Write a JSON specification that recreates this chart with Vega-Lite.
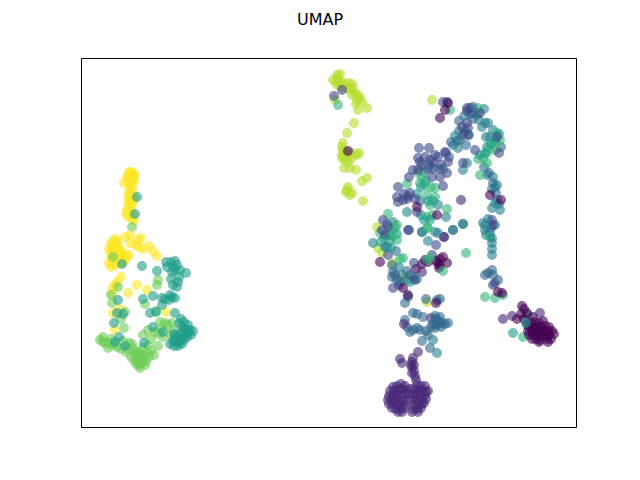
{"$schema":"https://vega.github.io/schema/vega-lite/v6.json","width":495,"height":369,"autosize":"none","padding":{"left":81,"top":58,"right":64,"bottom":53},"background":"white",
"title":{"text":"UMAP","font":"DejaVu Sans","fontSize":16,"fontWeight":"normal","color":"black","anchor":"middle","dx":-8.5,"offset":30},
"config":{"view":{"stroke":"black","strokeWidth":1}},
"data":{"values":[
{"x":50,"y":255,"c":9},{"x":48,"y":255,"c":9},{"x":52,"y":254,"c":9},{"x":47,"y":252,"c":9},{"x":51,"y":252,"c":9},{"x":54,"y":252,"c":9},{"x":49,"y":250,"c":9},{"x":52,"y":249,"c":9},{"x":46,"y":249,"c":9},{"x":50,"y":247,"c":9},{"x":53,"y":246,"c":9},{"x":43,"y":244,"c":9},{"x":48,"y":244,"c":9},{"x":51,"y":243,"c":9},{"x":49,"y":240,"c":9},{"x":52,"y":238,"c":9},{"x":48,"y":235,"c":9},{"x":50,"y":233,"c":9},{"x":52,"y":231,"c":9},{"x":47,"y":230,"c":9},{"x":49,"y":228,"c":9},{"x":53,"y":227,"c":9},{"x":48,"y":225,"c":9},{"x":51,"y":223,"c":9},{"x":47,"y":221,"c":9},{"x":50,"y":219,"c":9},{"x":46,"y":216,"c":9},{"x":49,"y":214,"c":9},{"x":52,"y":212,"c":9},{"x":48,"y":210,"c":9},{"x":45,"y":213,"c":9},{"x":51,"y":208,"c":9},{"x":53,"y":206,"c":9},{"x":51,"y":200,"c":7},{"x":56,"y":230,"c":5},{"x":54,"y":213,"c":5},
{"x":34,"y":188,"c":9},{"x":32,"y":186,"c":9},{"x":36,"y":186,"c":9},{"x":30,"y":183,"c":9},{"x":34,"y":183,"c":9},{"x":37,"y":182,"c":9},{"x":31,"y":180,"c":9},{"x":35,"y":179,"c":9},{"x":28,"y":178,"c":9},{"x":32,"y":177,"c":9},{"x":38,"y":177,"c":9},{"x":30,"y":174,"c":9},{"x":34,"y":174,"c":9},{"x":37,"y":174,"c":9},{"x":41,"y":176,"c":9},{"x":43,"y":172,"c":9},{"x":46,"y":170,"c":9},{"x":48,"y":172,"c":9},{"x":40,"y":172,"c":9},{"x":33,"y":171,"c":9},{"x":30,"y":169,"c":9},{"x":36,"y":168,"c":9},{"x":39,"y":169,"c":9},{"x":42,"y":168,"c":9},{"x":44,"y":167,"c":9},{"x":28,"y":164,"c":9},{"x":32,"y":163,"c":9},{"x":35,"y":162,"c":9},{"x":41,"y":164,"c":9},{"x":30,"y":160,"c":9},{"x":44,"y":190,"c":9},{"x":49,"y":192,"c":9},{"x":60,"y":189,"c":9},{"x":57,"y":187,"c":9},{"x":49,"y":184,"c":9},{"x":54,"y":182,"c":9},{"x":58,"y":180,"c":9},{"x":62,"y":178,"c":9},{"x":68,"y":181,"c":9},{"x":72,"y":176,"c":9},{"x":76,"y":171,"c":9},{"x":40,"y":150,"c":9},{"x":56,"y":142,"c":9},{"x":47,"y":134,"c":9},{"x":66,"y":137,"c":9},{"x":34,"y":142,"c":9},{"x":36,"y":145,"c":9},{"x":32,"y":139,"c":9},{"x":31,"y":134,"c":9},{"x":32,"y":114,"c":9},{"x":34,"y":97,"c":9},{"x":85,"y":115,"c":9},{"x":39,"y":118,"c":9},
{"x":32,"y":170,"c":7},{"x":37,"y":140,"c":7},{"x":30,"y":132,"c":7},{"x":31,"y":124,"c":7},{"x":77,"y":147,"c":7},{"x":76,"y":142,"c":7},{"x":64,"y":123,"c":7},{"x":44,"y":115,"c":7},{"x":75,"y":116,"c":7},{"x":43,"y":99,"c":7},{"x":40,"y":108,"c":7},{"x":62,"y":92,"c":7},{"x":67,"y":97,"c":7},{"x":74,"y":95,"c":7},{"x":81,"y":99,"c":7},{"x":84,"y":104,"c":7},{"x":87,"y":102,"c":7},{"x":79,"y":105,"c":7},{"x":91,"y":104,"c":7},{"x":92,"y":97,"c":7},{"x":82,"y":90,"c":7},{"x":90,"y":92,"c":7},{"x":78,"y":93,"c":7},{"x":70,"y":88,"c":7},{"x":48,"y":84,"c":7},{"x":42,"y":86,"c":7},{"x":30,"y":88,"c":7},{"x":22,"y":90,"c":7},{"x":19,"y":87,"c":7},{"x":24,"y":84,"c":7},{"x":22,"y":85,"c":7},{"x":27,"y":79,"c":7},{"x":28,"y":84,"c":7},{"x":32,"y":82,"c":7},{"x":36,"y":80,"c":7},{"x":40,"y":78,"c":7},{"x":45,"y":75,"c":7},{"x":51,"y":83,"c":7},{"x":48,"y":77,"c":7},{"x":53,"y":78,"c":7},{"x":57,"y":75,"c":7},{"x":62,"y":79,"c":7},{"x":67,"y":82,"c":7},{"x":70,"y":76,"c":7},{"x":77,"y":81,"c":7},{"x":73,"y":72,"c":7},{"x":50,"y":70,"c":7},{"x":53,"y":67,"c":7},{"x":56,"y":71,"c":7},{"x":59,"y":67,"c":7},{"x":62,"y":70,"c":7},{"x":65,"y":66,"c":7},{"x":68,"y":70,"c":7},{"x":55,"y":63,"c":7},{"x":58,"y":62,"c":7},{"x":61,"y":64,"c":7},{"x":64,"y":62,"c":7},{"x":57,"y":66,"c":7},{"x":60,"y":73,"c":7},{"x":66,"y":74,"c":7},{"x":54,"y":74,"c":7},{"x":59,"y":59,"c":7},
{"x":85,"y":165,"c":5},{"x":90,"y":165,"c":5},{"x":86,"y":160,"c":5},{"x":90,"y":148,"c":5},{"x":94,"y":166,"c":5},{"x":92,"y":160,"c":5},{"x":96,"y":162,"c":5},{"x":94,"y":157,"c":5},{"x":99,"y":157,"c":5},{"x":91,"y":155,"c":5},{"x":105,"y":154,"c":5},{"x":97,"y":145,"c":5},{"x":92,"y":142,"c":5},{"x":96,"y":140,"c":5},{"x":98,"y":150,"c":5},{"x":61,"y":161,"c":5},{"x":76,"y":156,"c":5},{"x":41,"y":163,"c":5},{"x":81,"y":129,"c":5},{"x":84,"y":128,"c":5},{"x":88,"y":127,"c":5},{"x":94,"y":129,"c":5},{"x":91,"y":130,"c":5},{"x":89,"y":132,"c":5},{"x":72,"y":131,"c":5},{"x":62,"y":128,"c":5},{"x":37,"y":127,"c":5},{"x":81,"y":122,"c":5},{"x":94,"y":114,"c":5},{"x":75,"y":115,"c":5},{"x":69,"y":114,"c":5},{"x":42,"y":113,"c":5},{"x":36,"y":114,"c":5},{"x":33,"y":104,"c":5},{"x":72,"y":100,"c":5},{"x":82,"y":95,"c":5},{"x":38,"y":90,"c":5},{"x":34,"y":85,"c":5},{"x":44,"y":81,"c":5},{"x":63,"y":84,"c":5},{"x":100,"y":108,"c":5},{"x":98,"y":104,"c":5},{"x":103,"y":105,"c":5},{"x":107,"y":102,"c":5},{"x":101,"y":100,"c":5},{"x":105,"y":98,"c":5},{"x":109,"y":97,"c":5},{"x":112,"y":96,"c":5},{"x":104,"y":97,"c":5},{"x":101,"y":95,"c":5},{"x":107,"y":94,"c":5},{"x":110,"y":92,"c":5},{"x":97,"y":92,"c":5},{"x":103,"y":91,"c":5},{"x":106,"y":90,"c":5},{"x":94,"y":89,"c":5},{"x":97,"y":89,"c":5},{"x":100,"y":88,"c":5},{"x":103,"y":87,"c":5},{"x":92,"y":86,"c":5},{"x":95,"y":85,"c":5},{"x":98,"y":84,"c":5},{"x":101,"y":83,"c":5},{"x":89,"y":83,"c":5},{"x":93,"y":81,"c":5},{"x":97,"y":81,"c":5},{"x":93,"y":93,"c":5},
{"x":252,"y":347,"c":8},{"x":256,"y":352,"c":8},{"x":259,"y":353,"c":8},{"x":257,"y":349,"c":8},{"x":255,"y":345,"c":8},{"x":259,"y":345,"c":8},{"x":262,"y":344,"c":8},{"x":256,"y":342,"c":8},{"x":261,"y":340,"c":8},{"x":267,"y":344,"c":8},{"x":271,"y":343,"c":8},{"x":266,"y":339,"c":8},{"x":269,"y":337,"c":8},{"x":272,"y":339,"c":8},{"x":271,"y":332,"c":8},{"x":274,"y":334,"c":8},{"x":277,"y":332,"c":8},{"x":276,"y":327,"c":8},{"x":279,"y":329,"c":8},{"x":281,"y":325,"c":8},{"x":275,"y":323,"c":8},{"x":277,"y":317,"c":8},{"x":286,"y":319,"c":8},{"x":254,"y":327,"c":8},{"x":273,"y":304,"c":8},{"x":266,"y":294,"c":8},{"x":351,"y":327,"c":8},{"x":253,"y":331,"c":2},{"x":261,"y":337,"c":2},{"x":257,"y":322,"c":6},
{"x":262,"y":284,"c":8},{"x":261,"y":280,"c":8},{"x":262,"y":277,"c":8},{"x":264,"y":274,"c":8},{"x":261,"y":272,"c":8},{"x":267,"y":272,"c":8},{"x":271,"y":274,"c":8},{"x":278,"y":274,"c":8},{"x":276,"y":272,"c":8},{"x":261,"y":269,"c":8},{"x":264,"y":267,"c":8},{"x":267,"y":265,"c":8},{"x":271,"y":269,"c":8},{"x":263,"y":259,"c":8},{"x":269,"y":259,"c":8},{"x":275,"y":257,"c":8},{"x":267,"y":276,"c":0},{"x":286,"y":249,"c":8},{"x":281,"y":246,"c":8},{"x":267,"y":240,"c":8},{"x":266,"y":237,"c":8},{"x":269,"y":232,"c":8},{"x":265,"y":235,"c":8},{"x":271,"y":234,"c":8},{"x":282,"y":226,"c":8},{"x":296,"y":200,"c":8},{"x":297,"y":179,"c":8},{"x":301,"y":174,"c":8},{"x":324,"y":150,"c":8},{"x":312,"y":164,"c":8},{"x":346,"y":125,"c":8},
{"x":396,"y":312,"c":4},{"x":404,"y":304,"c":4},{"x":407,"y":304,"c":4},{"x":409,"y":290,"c":4},{"x":388,"y":292,"c":4},{"x":372,"y":282,"c":4},{"x":379,"y":287,"c":4},{"x":377,"y":279,"c":4},{"x":386,"y":264,"c":4},{"x":382,"y":257,"c":4},{"x":406,"y":252,"c":4},{"x":412,"y":250,"c":4},{"x":414,"y":240,"c":4},{"x":411,"y":238,"c":4},{"x":416,"y":242,"c":4},{"x":416,"y":227,"c":4},{"x":419,"y":217,"c":4},{"x":411,"y":219,"c":4},{"x":402,"y":204,"c":4},{"x":404,"y":197,"c":4},{"x":414,"y":202,"c":4},{"x":382,"y":203,"c":3},{"x":372,"y":197,"c":3},{"x":365,"y":210,"c":4},{"x":341,"y":195,"c":4},{"x":354,"y":195,"c":4},{"x":326,"y":215,"c":4},{"x":357,"y":222,"c":4},{"x":409,"y":194,"c":4},{"x":376,"y":286,"c":3},{"x":368,"y":270,"c":3},{"x":385,"y":282,"c":3},{"x":403,"y":318,"c":4},{"x":392,"y":308,"c":3},{"x":406,"y":280,"c":4},{"x":420,"y":280,"c":3},{"x":349,"y":262,"c":3},{"x":358,"y":258,"c":3},{"x":383,"y":311,"c":4},{"x":389,"y":313,"c":3},{"x":392,"y":314,"c":3},{"x":378,"y":306,"c":3},{"x":384,"y":296,"c":3},{"x":378,"y":296,"c":4},{"x":374,"y":291,"c":4},{"x":370,"y":285,"c":3},{"x":398,"y":307,"c":4},{"x":401,"y":300,"c":4},{"x":405,"y":290,"c":4},{"x":412,"y":297,"c":4},{"x":403,"y":260,"c":3},{"x":408,"y":254,"c":3},{"x":412,"y":244,"c":3},{"x":415,"y":234,"c":3},{"x":418,"y":223,"c":4},{"x":414,"y":224,"c":4},{"x":407,"y":208,"c":4},{"x":410,"y":199,"c":3},{"x":405,"y":192,"c":4},{"x":343,"y":255,"c":3},{"x":347,"y":258,"c":3},{"x":362,"y":258,"c":3},{"x":339,"y":226,"c":3},{"x":306,"y":203,"c":3},{"x":312,"y":205,"c":4},{"x":309,"y":192,"c":4},{"x":306,"y":180,"c":3},{"x":315,"y":176,"c":3},{"x":311,"y":162,"c":3},{"x":318,"y":160,"c":4},{"x":321,"y":152,"c":4},{"x":326,"y":156,"c":3},{"x":326,"y":147,"c":3},
{"x":397,"y":319,"c":6},{"x":369,"y":317,"c":6},{"x":416,"y":294,"c":6},{"x":419,"y":287,"c":6},{"x":414,"y":284,"c":6},{"x":409,"y":279,"c":6},{"x":414,"y":277,"c":6},{"x":406,"y":274,"c":6},{"x":402,"y":269,"c":6},{"x":397,"y":268,"c":6},{"x":406,"y":264,"c":6},{"x":399,"y":252,"c":6},{"x":337,"y":254,"c":6},{"x":341,"y":249,"c":6},{"x":339,"y":244,"c":6},{"x":344,"y":242,"c":6},{"x":326,"y":243,"c":6},{"x":354,"y":239,"c":6},{"x":346,"y":232,"c":6},{"x":354,"y":230,"c":6},{"x":366,"y":218,"c":6},{"x":349,"y":222,"c":6},{"x":346,"y":210,"c":6},{"x":351,"y":212,"c":6},{"x":307,"y":213,"c":6},{"x":314,"y":200,"c":6},{"x":311,"y":197,"c":6},{"x":316,"y":202,"c":6},{"x":346,"y":199,"c":6},{"x":299,"y":194,"c":6},{"x":409,"y":190,"c":6},{"x":418,"y":293,"c":5},{"x":414,"y":287,"c":5},{"x":410,"y":283,"c":5},{"x":404,"y":274,"c":5},{"x":399,"y":272,"c":5},{"x":345,"y":246,"c":5},{"x":340,"y":240,"c":5},{"x":336,"y":233,"c":5},{"x":350,"y":240,"c":6},{"x":347,"y":226,"c":5},{"x":352,"y":226,"c":5},{"x":340,"y":212,"c":5},{"x":343,"y":207,"c":5},{"x":349,"y":207,"c":5},{"x":303,"y":189,"c":6},{"x":316,"y":193,"c":5},{"x":329,"y":145,"c":5},
{"x":362,"y":325,"c":2},{"x":366,"y":325,"c":2},{"x":386,"y":319,"c":2},{"x":389,"y":319,"c":2},{"x":392,"y":320,"c":3},{"x":399,"y":314,"c":2},{"x":386,"y":304,"c":2},{"x":387,"y":299,"c":2},{"x":382,"y":292,"c":2},{"x":387,"y":292,"c":2},{"x":386,"y":316,"c":2},{"x":381,"y":300,"c":2},{"x":394,"y":277,"c":2},{"x":365,"y":274,"c":2},{"x":338,"y":279,"c":2},{"x":348,"y":279,"c":2},{"x":354,"y":272,"c":2},{"x":337,"y":269,"c":2},{"x":344,"y":270,"c":2},{"x":349,"y":267,"c":2},{"x":352,"y":265,"c":2},{"x":341,"y":262,"c":2},{"x":339,"y":265,"c":2},{"x":332,"y":257,"c":2},{"x":328,"y":250,"c":2},{"x":337,"y":257,"c":2},{"x":351,"y":250,"c":2},{"x":366,"y":254,"c":2},{"x":359,"y":250,"c":2},{"x":364,"y":275,"c":2},{"x":367,"y":265,"c":2},{"x":382,"y":264,"c":2},{"x":357,"y":270,"c":2},{"x":360,"y":262,"c":2},{"x":352,"y":258,"c":2},{"x":323,"y":233,"c":2},{"x":334,"y":228,"c":2},{"x":326,"y":228,"c":2},{"x":317,"y":240,"c":2},{"x":362,"y":241,"c":2},{"x":329,"y":234,"c":2},{"x":316,"y":230,"c":2},{"x":317,"y":225,"c":2},{"x":322,"y":227,"c":2},{"x":327,"y":231,"c":2},{"x":336,"y":215,"c":2},{"x":327,"y":197,"c":2},{"x":302,"y":207,"c":2},{"x":307,"y":200,"c":2},{"x":301,"y":197,"c":2},{"x":304,"y":192,"c":2},{"x":416,"y":290,"c":2},{"x":418,"y":274,"c":2},{"x":411,"y":207,"c":2},{"x":412,"y":202,"c":2},{"x":328,"y":197,"c":2},{"x":363,"y":190,"c":2},{"x":355,"y":182,"c":2},{"x":307,"y":172,"c":2},{"x":314,"y":152,"c":2},{"x":318,"y":142,"c":2},
{"x":364,"y":317,"c":0},{"x":367,"y":324,"c":0},{"x":359,"y":309,"c":0},{"x":409,"y":232,"c":0},{"x":420,"y":227,"c":0},{"x":356,"y":212,"c":0},{"x":363,"y":190,"c":1},{"x":336,"y":220,"c":0},{"x":380,"y":227,"c":1},{"x":335,"y":158,"c":0},{"x":341,"y":155,"c":1},
{"x":292,"y":184,"c":4},{"x":341,"y":195,"c":4},{"x":347,"y":186,"c":4},{"x":382,"y":203,"c":4},{"x":372,"y":197,"c":4},{"x":357,"y":194,"c":4},{"x":312,"y":191,"c":6},{"x":316,"y":187,"c":6},{"x":309,"y":186,"c":5},{"x":300,"y":185,"c":5},{"x":304,"y":180,"c":4},{"x":310,"y":179,"c":5},{"x":322,"y":169,"c":6},{"x":319,"y":168,"c":6},{"x":347,"y":199,"c":6},{"x":385,"y":174,"c":6},{"x":404,"y":130,"c":6},{"x":414,"y":129,"c":6},{"x":422,"y":132,"c":6},{"x":442,"y":90,"c":6},{"x":447,"y":112,"c":6},{"x":432,"y":94,"c":5},{"x":312,"y":155,"c":3},{"x":316,"y":147,"c":3},{"x":319,"y":145,"c":3},{"x":329,"y":152,"c":3},{"x":311,"y":150,"c":3},{"x":333,"y":150,"c":3},{"x":336,"y":148,"c":4},{"x":327,"y":130,"c":3},{"x":324,"y":124,"c":3},{"x":345,"y":128,"c":3},{"x":356,"y":127,"c":3},{"x":359,"y":128,"c":3},{"x":333,"y":164,"c":2},{"x":334,"y":147,"c":2},{"x":312,"y":139,"c":2},{"x":299,"y":165,"c":0},{"x":322,"y":139,"c":0},{"x":327,"y":132,"c":0},{"x":344,"y":167,"c":0},{"x":341,"y":163,"c":0},{"x":347,"y":165,"c":0},{"x":351,"y":172,"c":2},{"x":359,"y":168,"c":0},{"x":362,"y":170,"c":0},{"x":366,"y":164,"c":0},{"x":357,"y":164,"c":0},{"x":359,"y":161,"c":0},{"x":358,"y":159,"c":0},{"x":355,"y":166,"c":0},{"x":349,"y":169,"c":6},{"x":346,"y":167,"c":6},{"x":362,"y":156,"c":6},{"x":355,"y":124,"c":0},{"x":350,"y":109,"c":1},
{"x":332,"y":114,"c":3},{"x":336,"y":113,"c":3},{"x":342,"y":110,"c":3},{"x":359,"y":110,"c":3},{"x":361,"y":104,"c":3},{"x":358,"y":106,"c":3},{"x":355,"y":108,"c":3},{"x":352,"y":103,"c":3},{"x":356,"y":102,"c":3},{"x":360,"y":100,"c":3},{"x":364,"y":103,"c":3},{"x":367,"y":104,"c":3},{"x":354,"y":99,"c":3},{"x":350,"y":100,"c":3},{"x":324,"y":107,"c":3},{"x":326,"y":100,"c":3},{"x":329,"y":95,"c":3},{"x":332,"y":97,"c":3},{"x":339,"y":97,"c":3},{"x":336,"y":99,"c":3},{"x":347,"y":92,"c":3},{"x":341,"y":86,"c":3},{"x":349,"y":79,"c":3},{"x":356,"y":74,"c":4},{"x":352,"y":87,"c":4},{"x":345,"y":96,"c":3},{"x":354,"y":111,"c":3},{"x":323,"y":103,"c":1},
{"x":404,"y":202,"c":4},{"x":411,"y":189,"c":4},{"x":411,"y":184,"c":4},{"x":411,"y":178,"c":4},{"x":411,"y":172,"c":4},{"x":407,"y":154,"c":3},{"x":411,"y":157,"c":3},{"x":412,"y":152,"c":3},{"x":404,"y":152,"c":3},{"x":414,"y":144,"c":2},{"x":417,"y":147,"c":3},{"x":412,"y":142,"c":2},{"x":417,"y":135,"c":0},{"x":421,"y":134,"c":0},{"x":422,"y":108,"c":1},{"x":431,"y":111,"c":1},{"x":459,"y":114,"c":1},
{"x":441,"y":121,"c":0},{"x":443,"y":118,"c":0},{"x":446,"y":114,"c":0},{"x":440,"y":113,"c":0},{"x":436,"y":108,"c":0},{"x":443,"y":108,"c":0},{"x":452,"y":110,"c":0},{"x":446,"y":103,"c":0},{"x":450,"y":104,"c":0},{"x":454,"y":105,"c":0},{"x":458,"y":104,"c":0},{"x":462,"y":106,"c":0},{"x":448,"y":100,"c":0},{"x":452,"y":100,"c":0},{"x":456,"y":100,"c":0},{"x":460,"y":100,"c":0},{"x":464,"y":101,"c":0},{"x":468,"y":100,"c":0},{"x":447,"y":96,"c":0},{"x":451,"y":96,"c":0},{"x":455,"y":96,"c":0},{"x":459,"y":95,"c":0},{"x":463,"y":96,"c":0},{"x":467,"y":96,"c":0},{"x":471,"y":96,"c":0},{"x":448,"y":92,"c":0},{"x":452,"y":92,"c":0},{"x":456,"y":92,"c":0},{"x":460,"y":91,"c":0},{"x":464,"y":92,"c":0},{"x":468,"y":92,"c":0},{"x":473,"y":93,"c":0},{"x":451,"y":88,"c":0},{"x":455,"y":88,"c":0},{"x":459,"y":87,"c":0},{"x":466,"y":88,"c":0},{"x":470,"y":88,"c":0},{"x":458,"y":85,"c":0},{"x":467,"y":85,"c":0},{"x":445,"y":104,"c":5},
{"x":319,"y":68,"c":1},{"x":321,"y":64,"c":1},{"x":332,"y":69,"c":1},{"x":337,"y":75,"c":1},{"x":331,"y":65,"c":1},{"x":331,"y":60,"c":1},{"x":333,"y":56,"c":1},{"x":334,"y":51,"c":1},{"x":335,"y":47,"c":1},{"x":330,"y":62,"c":1},{"x":333,"y":62,"c":1},{"x":331,"y":54,"c":1},{"x":312,"y":40,"c":1},{"x":316,"y":41,"c":1},{"x":320,"y":43,"c":1},{"x":324,"y":41,"c":1},{"x":336,"y":42,"c":1},{"x":340,"y":41,"c":1},{"x":344,"y":41,"c":1},{"x":347,"y":36,"c":1},{"x":309,"y":36,"c":1},{"x":313,"y":36,"c":1},{"x":317,"y":37,"c":1},{"x":321,"y":38,"c":1},{"x":325,"y":37,"c":1},{"x":329,"y":38,"c":1},{"x":333,"y":38,"c":1},{"x":337,"y":37,"c":1},{"x":341,"y":37,"c":1},{"x":345,"y":35,"c":1},{"x":308,"y":31,"c":1},{"x":312,"y":31,"c":1},{"x":316,"y":32,"c":1},{"x":320,"y":32,"c":1},{"x":324,"y":33,"c":1},{"x":328,"y":33,"c":1},{"x":332,"y":33,"c":1},{"x":336,"y":33,"c":1},{"x":340,"y":33,"c":1},{"x":344,"y":32,"c":1},{"x":307,"y":27,"c":1},{"x":311,"y":27,"c":1},{"x":315,"y":27,"c":1},{"x":319,"y":27,"c":1},{"x":323,"y":27,"c":1},{"x":328,"y":27,"c":1},{"x":333,"y":28,"c":1},{"x":337,"y":28,"c":1},{"x":341,"y":28,"c":1},{"x":345,"y":28,"c":1},{"x":308,"y":23,"c":1},{"x":312,"y":23,"c":1},{"x":316,"y":23,"c":1},{"x":320,"y":22,"c":1},{"x":324,"y":22,"c":1},{"x":333,"y":23,"c":1},{"x":337,"y":23,"c":1},{"x":341,"y":23,"c":1},{"x":343,"y":24,"c":1},{"x":311,"y":19,"c":1},{"x":315,"y":18,"c":1},{"x":319,"y":18,"c":1},{"x":323,"y":19,"c":1},{"x":332,"y":18,"c":1},{"x":336,"y":18,"c":1},{"x":340,"y":19,"c":1},{"x":331,"y":15,"c":1},{"x":337,"y":15,"c":1},{"x":317,"y":15,"c":1},{"x":321,"y":15,"c":1}
]},
"mark":{"type":"point","filled":true,"opacity":0.6,"size":77,"clip":true,"strokeWidth":1.2},
"encoding":{
"x":{"field":"x","type":"quantitative","scale":{"domain":[0,495],"nice":false,"zero":false},"axis":null},
"y":{"field":"y","type":"quantitative","scale":{"domain":[0,369],"nice":false,"zero":false},"axis":null},
"color":{"field":"c","type":"ordinal","legend":null,"scale":{"domain":[0,1,2,3,4,5,6,7,8,9],"range":["#440154","#482878","#3e4989","#31688e","#26828e","#1f9e89","#35b779","#6ece58","#b5de2b","#fde725"]}},
"stroke":{"field":"c","type":"ordinal","legend":null,"scale":{"domain":[0,1,2,3,4,5,6,7,8,9],"range":["#440154","#482878","#3e4989","#31688e","#26828e","#1f9e89","#35b779","#6ece58","#b5de2b","#fde725"]}}
}}
